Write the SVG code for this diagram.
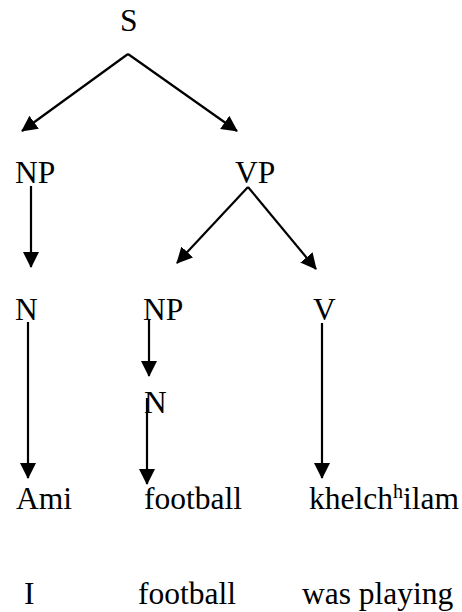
<svg xmlns="http://www.w3.org/2000/svg" width="462" height="612" viewBox="0 0 462 612">
<style>
text{font-family:"Liberation Serif","Times New Roman",serif;font-size:31.5px;fill:#000}
.e line{stroke:#000;stroke-width:2.2;marker-end:url(#ah)}
</style>
<defs>
<marker id="ah" markerUnits="userSpaceOnUse" markerWidth="18" markerHeight="18" viewBox="0 0 18 18" refX="15" refY="8" orient="auto">
<path d="M0,0 L16,8 L0,16 z" fill="#000"/>
</marker>
</defs>
<rect width="462" height="612" fill="#fff"/>
<g class="e" id="connectors">
<line x1="128" y1="54" x2="22" y2="131"/>
<line x1="128" y1="54" x2="237" y2="131"/>
<line x1="31" y1="186" x2="31" y2="267"/>
<line x1="248" y1="187" x2="177" y2="263"/>
<line x1="248" y1="187" x2="316" y2="269"/>
<line x1="28" y1="322" x2="28" y2="478"/>
<line x1="149" y1="320" x2="149" y2="376"/>
<line x1="147" y1="398" x2="147" y2="484"/>
<line x1="322" y1="323" x2="322" y2="478"/>
</g>
<g id="S"><text x="120" y="31">S</text></g>
<g id="NP1"><text x="15" y="183">NP</text></g>
<g id="VP"><text x="235" y="183">VP</text></g>
<g id="N1"><text x="15" y="320">N</text></g>
<g id="NP2"><text x="143" y="320">NP</text></g>
<g id="V"><text x="313" y="320">V</text></g>
<g id="N2"><text x="144" y="413">N</text></g>
<g id="Ami"><text x="16" y="509">Ami</text></g>
<g id="football1"><text x="144" y="509">football</text></g>
<g id="khelchilam"><text x="309" y="509">khelch<tspan font-size="20" dy="-11">h</tspan><tspan dy="11">ilam</tspan></text></g>
<g id="I"><text x="24" y="604">I</text></g>
<g id="football2"><text x="138" y="604">football</text></g>
<g id="wasplaying"><text x="302" y="604">was playing</text></g>
</svg>
